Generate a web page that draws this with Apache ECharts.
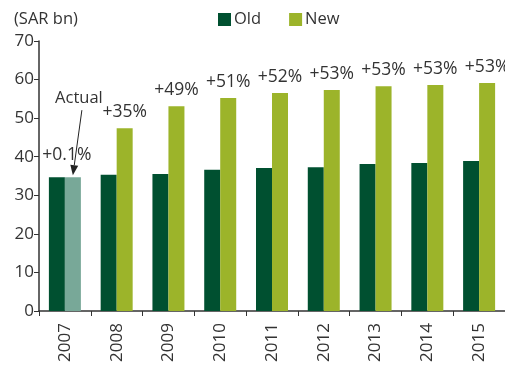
<!DOCTYPE html>
<html><head><meta charset="utf-8">
<script src="https://cdn.jsdelivr.net/npm/echarts@6/dist/echarts.min.js"></script>
<style>html,body{margin:0;padding:0;background:#fff}#c{width:505px;height:369px}</style>
</head><body><div id="c"></div>
<script>
var categories = ['2007','2008','2009','2010','2011','2012','2013','2014','2015'];
var oldValues = [34.7, 35.3, 35.5, 36.6, 37.1, 37.3, 38.1, 38.4, 38.9];
var newValues = [34.7, 47.4, 53.1, 55.2, 56.5, 57.3, 58.3, 58.6, 59.1];
var changeLabels = ['+0.1%','+35%','+49%','+51%','+52%','+53%','+53%','+53%','+53%'];
var yTicks = [0,10,20,30,40,50,60,70];
var FONT = 'Open Sans';
var TXT = '#333333';
var OLD = '#005030';
var NEW = '#9cb42a';
var ACTUAL = '#78a898';

var chart = echarts.init(document.getElementById('c'), null, {renderer:'canvas'});
var newData = newValues.map(function(v,i){
  var d = {value:v, label:{formatter: changeLabels[i]}};
  if (i === 0) {
    d.itemStyle = {color: ACTUAL};
    d.label = {formatter: changeLabels[i], offset:[-6,-6]};
  }
  return d;
});
chart.setOption({
  animation:false,
  textStyle:{fontFamily:FONT},
  grid:{left:39, right:-4, top:41, bottom:58, containLabel:false},
  legend:{
    top:6, left:213, itemWidth:13, itemHeight:13, itemGap:28,
    icon:'rect',
    textStyle:{fontFamily:FONT, fontSize:16.5, color:TXT, padding:[0,0,0,-2]},
    data:['Old','New']
  },
  title:{text:'(SAR bn)', left:9, top:6, textStyle:{fontFamily:FONT, fontSize:16.5, fontWeight:'normal', color:TXT}},
  xAxis:{
    type:'category', data:categories,
    axisLine:{lineStyle:{color:'#333', width:1.5}},
    axisTick:{show:true, length:5, lineStyle:{color:'#333'}},
    axisLabel:{rotate:90, fontSize:17, color:TXT, fontFamily:FONT, margin:12}
  },
  yAxis:{
    type:'value', min:yTicks[0], max:yTicks[yTicks.length-1], interval:10,
    axisLine:{show:true, lineStyle:{color:'#333', width:1.5}},
    axisTick:{show:true, inside:false, length:5, lineStyle:{color:'#333'}},
    splitLine:{show:false},
    axisLabel:{fontSize:17, color:TXT, fontFamily:FONT, margin:5}
  },
  series:[
    {name:'Old', type:'bar', data:oldValues, barWidth:16, barGap:'0%', itemStyle:{color:OLD}},
    {name:'New', type:'bar', data:newData, barWidth:16, barGap:'0%', itemStyle:{color:NEW},
     label:{show:true, position:'top', distance:7, fontSize:17.5, color:TXT, fontFamily:FONT}}
  ]
});

// "Actual" annotation arrow, placed relative to the 2007 New bar
var top0 = chart.convertToPixel({seriesIndex:1}, [categories[0], newValues[0]]);
var cx = top0[0] + 8; // centre of the New bar (barWidth 16, gap 0)
var tipY = top0[1] - 2;
var tailX = cx + 9, tailY = tipY - 65;
var ang = Math.atan2(tipY - tailY, cx - tailX);
var ah = 10, aw = 4;
var bx = cx - ah*Math.cos(ang), by = tipY - ah*Math.sin(ang);
var px = -Math.sin(ang)*aw, py = Math.cos(ang)*aw;
chart.setOption({
  graphic:[
    {type:'line', shape:{x1:tailX, y1:tailY, x2:bx, y2:by}, style:{stroke:'#222', lineWidth:1}},
    {type:'polygon', shape:{points:[[cx,tipY],[bx+px,by+py],[bx-px,by-py]]}, style:{fill:'#222'}},
    {type:'text', x:tailX-3, y:tailY-3, style:{text:'Actual', fontFamily:FONT, fontSize:16.5, fill:TXT, textAlign:'center', textVerticalAlign:'bottom'}}
  ]
});
</script></body></html>
